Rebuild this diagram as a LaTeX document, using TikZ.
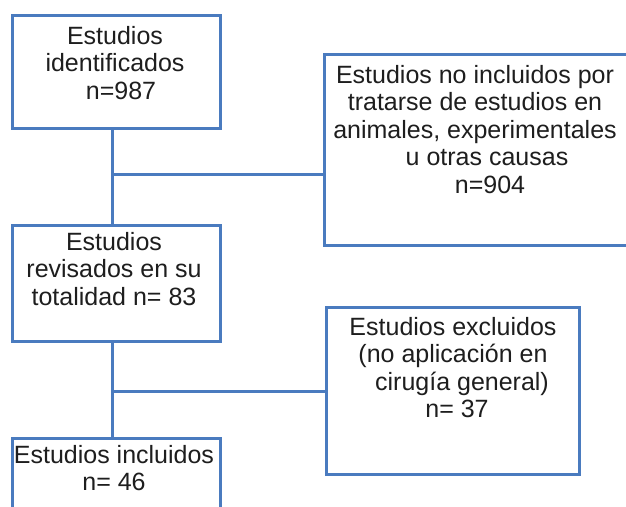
\documentclass[tikz,border=0pt]{standalone}
\usepackage{fontspec}
\setmainfont{Liberation Sans}
\definecolor{boxblue}{HTML}{4A7BBF}
\definecolor{txtcol}{HTML}{1E1E1E}
\tikzset{
  box/.style={draw=boxblue, line width=3pt, fill=white, anchor=north west, inner sep=0pt},
  conn/.style={draw=boxblue, line width=3pt},
  txt/.style={text=txtcol, align=center, anchor=base, inner sep=0pt,
    font=\fontsize{25pt}{27.5pt}\selectfont}
}
\begin{document}
\begin{tikzpicture}[x=1pt,y=-1pt]
\useasboundingbox (0,0) rectangle (626,506);
\clip (0,0) rectangle (626,506);
\fill[white] (0,0) rectangle (626,506);
% boxes
\node[box, minimum width=208pt, minimum height=113pt] (b1) at (11,14) {};
\node[box, minimum width=303pt, minimum height=191pt] (b2) at (323,53) {};
\node[box, minimum width=208pt, minimum height=116pt] (b3) at (11,224) {};
\node[box, minimum width=253pt, minimum height=167pt] (b4) at (325,306) {};
\node[box, minimum width=208pt, minimum height=100pt] (b5) at (11,437) {};
% texts (anchor = baseline of the last line)
\node[txt] (t1) at (115,99) {Estudios\\identificados\\\hspace*{12pt}n=987};
\node[txt] (t2) at (475,193) {Estudios no incluidos por\\tratarse de estudios en\\animales, experimentales\\\hspace*{24pt}u otras causas\\\hspace*{30pt}n=904};
\node[txt] (t3) at (114,305) {Estudios\\revisados en su\\totalidad n= 83};
\node[txt] (t4) at (453,417.5) {Estudios excluidos\\(no aplicación en\\\hspace*{18pt}cirugía general)\\\hspace*{8pt}n= 37};
\node[txt] (t5) at (114,490.5) {Estudios incluidos\\n= 46};
% connectors
\coordinate (j1) at ([xshift=-4pt]b1.south |- 0,174);
\coordinate (j2) at ([xshift=-4pt]b3.south |- 0,391);
\draw[conn] ([xshift=-4pt]b1.south) -- ([xshift=-4pt]b3.north);
\draw[conn] (j1) -- (j1 -| b2.west);
\draw[conn] ([xshift=-4pt]b3.south) -- ([xshift=-4pt]b5.north);
\draw[conn] (j2) -- (j2 -| b4.west);
\end{tikzpicture}
\end{document}
